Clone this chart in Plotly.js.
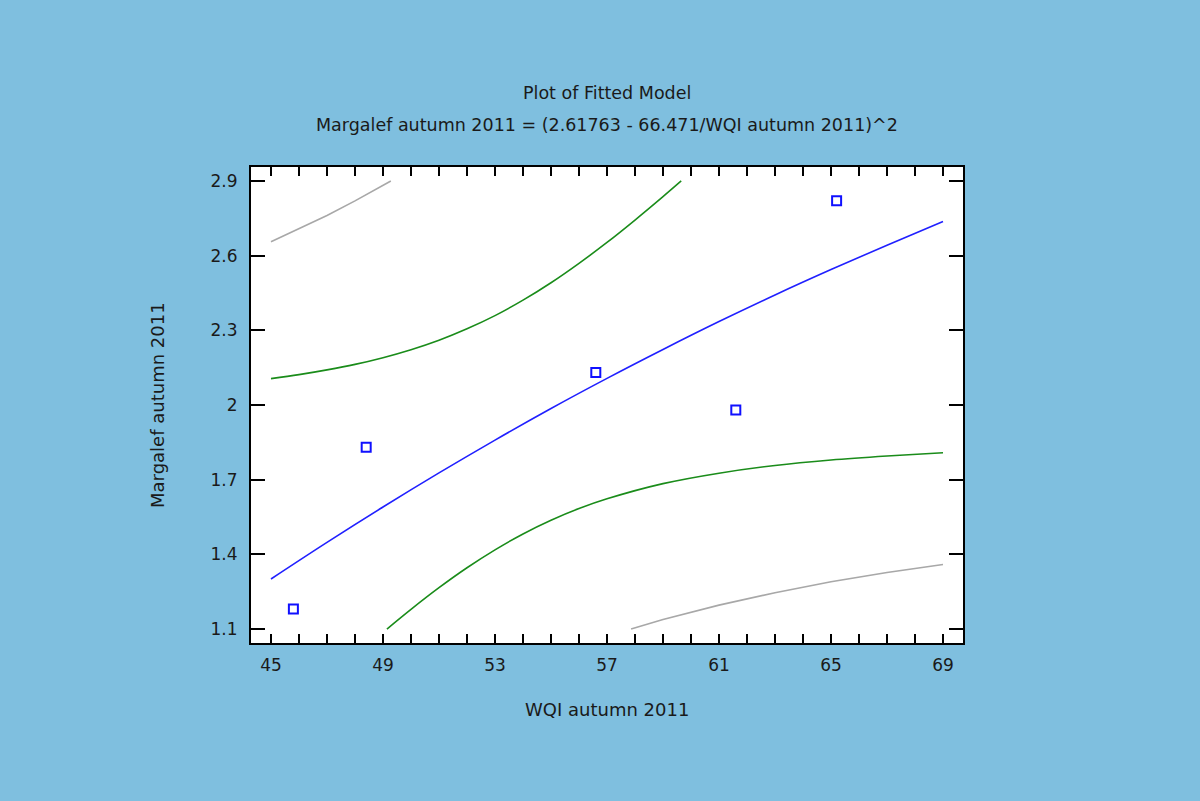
<!DOCTYPE html>
<html>
<head>
<meta charset="utf-8">
<script src="https://cdn.plot.ly/plotly-3.0.1.min.js"></script>
<style>html,body{margin:0;padding:0;background:#7fbfdf;}#chart{width:1200px;height:801px;}</style>
</head>
<body>
<div id="chart"></div>
<script>
// Observed points
const obsX = [45.8, 48.4, 56.6, 61.6, 65.2];
const obsY = [1.18, 1.83, 2.13, 1.98, 2.82];

// Fitted model line
const fitX = [45, 47, 49, 51, 53, 55, 57, 59, 61, 63, 65, 67, 69];
const fitY = [1.301, 1.448, 1.590, 1.727, 1.859, 1.986, 2.107, 2.223, 2.335, 2.442, 2.544, 2.642, 2.737];

// Inner (green) limits
const upperConfX = [45, 46, 47, 48, 49, 50, 51, 52, 53, 54, 55, 56, 57, 58, 59, 59.65];
const upperConfY = [2.106, 2.122, 2.141, 2.163, 2.190, 2.222, 2.260, 2.306, 2.359, 2.421, 2.491, 2.569, 2.653, 2.743, 2.837, 2.9];
const lowerConfX = [49.14, 50, 51, 52, 53, 54, 55, 56, 57, 59, 61, 63, 65, 67, 69];
const lowerConfY = [1.1, 1.179, 1.266, 1.346, 1.418, 1.482, 1.537, 1.584, 1.623, 1.684, 1.726, 1.757, 1.779, 1.795, 1.808];

// Outer (gray) limits
const upperPredX = [45, 46, 47, 48, 49, 49.28];
const upperPredY = [2.656, 2.707, 2.761, 2.820, 2.882, 2.9];
const lowerPredX = [57.86, 59, 61, 63, 65, 67, 69];
const lowerPredY = [1.1, 1.138, 1.196, 1.246, 1.290, 1.327, 1.359];

const xTickVals = [];
const xTickText = [];
for (let v = 45; v <= 69; v++) { xTickVals.push(v); xTickText.push((v - 45) % 4 === 0 ? String(v) : ''); }
const yTickVals = [1.1, 1.4, 1.7, 2.0, 2.3, 2.6, 2.9];
const yTickText = ['1.1', '1.4', '1.7', '2', '2.3', '2.6', '2.9'];

const FONT = 'DejaVu Sans, Verdana, sans-serif';
const TXT = '#1a1a1a';
const lineOpts = (c) => ({ color: c, width: 1.6 });

const traces = [
  { x: upperPredX, y: upperPredY, mode: 'lines', line: lineOpts('#a8a8a8'), hoverinfo: 'skip' },
  { x: lowerPredX, y: lowerPredY, mode: 'lines', line: lineOpts('#a8a8a8'), hoverinfo: 'skip' },
  { x: upperConfX, y: upperConfY, mode: 'lines', line: Object.assign(lineOpts('#1a8c1a'), {shape: 'spline'}) },
  { x: lowerConfX, y: lowerConfY, mode: 'lines', line: Object.assign(lineOpts('#1a8c1a'), {shape: 'spline'}) },
  { x: fitX, y: fitY, mode: 'lines', line: Object.assign(lineOpts('#2020ff'), {shape: 'spline'}) },
  { x: obsX, y: obsY, mode: 'markers', marker: { symbol: 'square-open', size: 9, color: '#1010ff', line: { width: 2, color: '#1010ff' } } }
];

const layout = {
  width: 1200, height: 801,
  paper_bgcolor: '#7fbfdf', plot_bgcolor: '#ffffff',
  showlegend: false,
  margin: { l: 251, r: 237, t: 167, b: 158 },
  font: { family: FONT, size: 17, color: TXT },
  xaxis: {
    range: [44.286, 69.714], showgrid: false, zeroline: false,
    showline: true, linecolor: '#000', linewidth: 2, mirror: 'ticks',
    ticks: 'inside', ticklen: 9, tickwidth: 2, tickcolor: '#000',
    tickmode: 'array', tickvals: xTickVals, ticktext: xTickText,
    ticklabelstandoff: 6,
    tickfont: { family: FONT, size: 17, color: TXT }
  },
  yaxis: {
    range: [1.0438, 2.956], showgrid: false, zeroline: false,
    showline: true, linecolor: '#000', linewidth: 2, mirror: 'ticks',
    ticks: 'inside', ticklen: 14, tickwidth: 2, tickcolor: '#000',
    tickmode: 'array', tickvals: yTickVals, ticktext: yTickText,
    ticklabelstandoff: 8,
    tickfont: { family: FONT, size: 17, color: TXT }
  },
  annotations: [
    { text: 'Plot of Fitted Model', xref: 'paper', yref: 'paper', x: 0.5, y: (643 - 93) / 476, xanchor: 'center', yanchor: 'middle', showarrow: false, font: { family: FONT, size: 17.5, color: TXT } },
    { text: 'Margalef autumn 2011 = (2.61763 - 66.471/WQI autumn 2011)^2', xref: 'paper', yref: 'paper', x: 0.5, y: (643 - 125) / 476, xanchor: 'center', yanchor: 'middle', showarrow: false, font: { family: FONT, size: 17.5, color: TXT } },
    { text: 'WQI autumn 2011', xref: 'paper', yref: 'paper', x: 0.5, y: (643 - 709) / 476, xanchor: 'center', yanchor: 'middle', showarrow: false, font: { family: FONT, size: 18, color: TXT } },
    { text: 'Margalef autumn 2011', xref: 'paper', yref: 'paper', x: (157 - 251) / 712, y: 0.5, xanchor: 'center', yanchor: 'middle', textangle: -90, showarrow: false, font: { family: FONT, size: 18, color: TXT } }
  ]
};

Plotly.newPlot('chart', traces, layout, { displayModeBar: false, staticPlot: true });
</script>
</body>
</html>
